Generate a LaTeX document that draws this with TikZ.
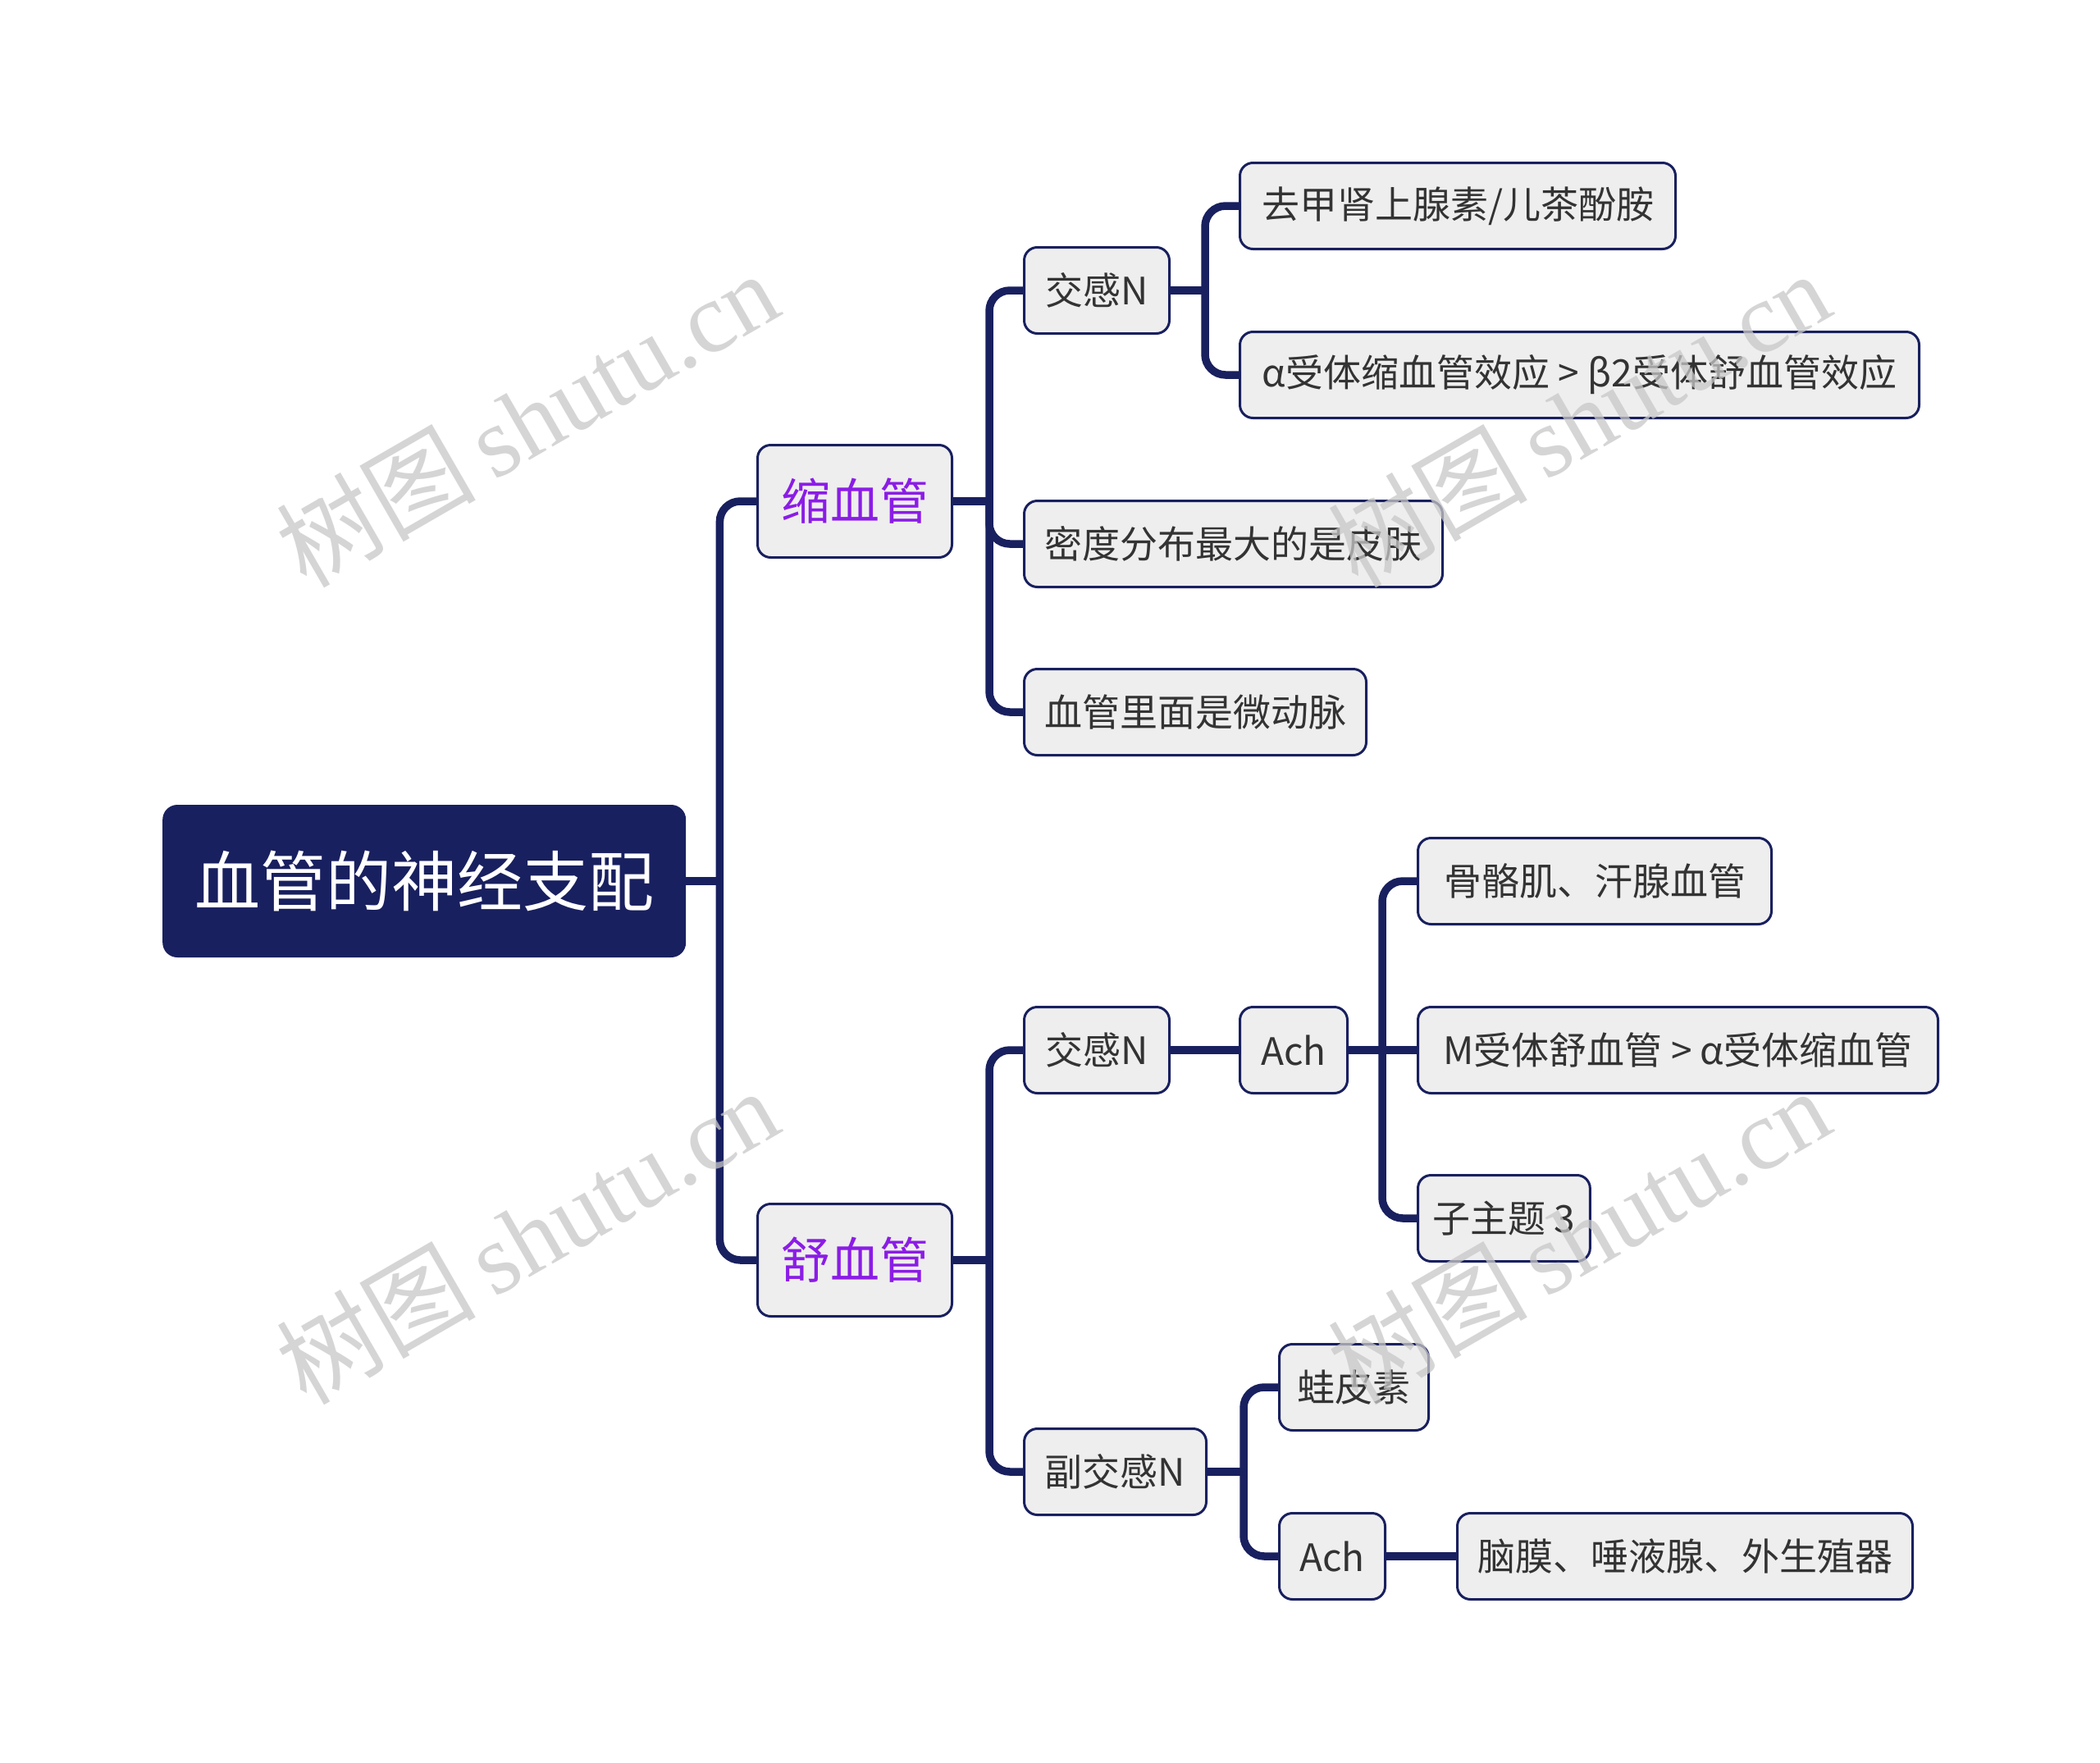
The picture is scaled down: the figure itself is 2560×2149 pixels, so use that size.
\documentclass[tikz,border=0pt]{standalone}
\usepackage{fontspec}
\newfontfamily\cjk{Noto Sans CJK SC}
\newfontfamily\wmserif{Liberation Serif}
\usetikzlibrary{calc}
\pgfdeclarelayer{bg}
\pgfdeclarelayer{fg}
\pgfsetlayers{bg,main,fg}
\definecolor{navy}{HTML}{19205F}
\definecolor{nodefill}{HTML}{EEEEEE}
\definecolor{txt}{HTML}{333333}
\definecolor{purp}{HTML}{8B1CE6}
\definecolor{wm}{HTML}{C8C8C8}
\begin{document}
\begin{tikzpicture}[x=1pt,y=-1pt,
  conn/.style={draw=navy,line width=9.5pt,rounded corners=25pt},
  box/.style={draw=navy,line width=3pt,fill=nodefill,rounded corners=16pt,anchor=west,
    minimum height=105pt,inner xsep=18pt,inner ysep=0pt,text=txt,
    font=\cjk\fontsize{46}{50}\selectfont},
  mainbox/.style={box,minimum height=137pt,text=purp,font=\cjk\fontsize{60}{64}\selectfont},
  rootbox/.style={fill=navy,rounded corners=18pt,anchor=west,minimum height=186pt,
    minimum width=638pt,text=white,font=\cjk\fontsize{80}{84}\selectfont},
  wmark/.style={text=wm,opacity=0.75,rotate=30,font=\fontsize{122}{122}\selectfont}
]
\useasboundingbox (0,0) rectangle (2560,2149);

\node[rootbox] (root) at (198,1074) {血管的神经支配};
\node[mainbox,minimum width=237pt] (suo) at (922,611) {缩血管};
\node[mainbox,minimum width=237pt] (shu) at (922,1536) {舒血管};
\node[box,minimum width=177pt] (jg1) at (1247,354) {交感N};
\node[box,minimum width=531pt] (qj) at (1510,251) {去甲肾上腺素/儿茶酚胺};
\node[box,minimum width=828pt] (alpha) at (1510,457) {α受体缩血管效应 > β2受体舒血管效应};
\node[box,minimum width=510pt] (md) at (1247,663) {密度分布最大的是皮肤};
\node[box,minimum width=417pt] (xg) at (1247,868) {血管里面是微动脉};
\node[box,minimum width=177pt] (jg2) at (1247,1280) {交感N};
\node[box,minimum width=131pt] (ach1) at (1510,1280) {Ach};
\node[box,minimum width=431pt] (gg) at (1727,1074) {骨骼肌、汗腺血管};
\node[box,minimum width=634pt] (mst) at (1727,1280) {M受体舒血管 > α受体缩血管};
\node[box,minimum width=182pt] (zzt) at (1727,1485) {子主题 3};
\node[box,minimum width=222pt] (fjg) at (1247,1794) {副交感N};
\node[box,minimum width=182pt] (wp) at (1558,1691) {蛙皮素};
\node[box,minimum width=129pt] (ach2) at (1558,1897) {Ach};
\node[box,minimum width=555pt] (nm) at (1775,1897) {脑膜、唾液腺、外生殖器};

\begin{pgfonlayer}{bg}
\fill[white] (0,0) rectangle (2560,2149);
\draw[conn] (root.east) -- ++(41,0) coordinate (t0);
\draw[conn] (t0) |- (suo.west);
\draw[conn] (t0) |- (shu.west);
\draw[conn] (suo.east) -- ++(44,0) coordinate (t1);
\draw[conn] (t1) |- (jg1.west);
\draw[conn] (t1) |- (md.west);
\draw[conn] (t1) |- (xg.west);
\draw[conn] (jg1.east) -- ++(42,0) coordinate (t2);
\draw[conn] (t2) |- (qj.west);
\draw[conn] (t2) |- (alpha.west);
\draw[conn] (shu.east) -- ++(44,0) coordinate (t3);
\draw[conn] (t3) |- (jg2.west);
\draw[conn] (t3) |- (fjg.west);
\draw[conn] (jg2.east) -- (ach1.west);
\draw[conn] (ach1.east) -- (mst.west);
\draw[conn] (ach1.east) -- ++(41,0) coordinate (t4);
\draw[conn] (t4) |- (gg.west);
\draw[conn] (t4) |- (zzt.west);
\draw[conn] (fjg.east) -- ++(44,0) coordinate (t5);
\draw[conn] (t5) |- (wp.west);
\draw[conn] (t5) |- (ach2.west);
\draw[conn] (ach2.east) -- (nm.west);
\end{pgfonlayer}

\begin{pgfonlayer}{fg}
\node[wmark] (wm1) at (642,510) {\cjk 树图\,\wmserif shutu.cn};
\node[wmark] (wm2) at (642,1506) {\cjk 树图\,\wmserif shutu.cn};
\node[wmark] (wm3) at (1924,510) {\cjk 树图\,\wmserif shutu.cn};
\node[wmark] (wm4) at (1924,1506) {\cjk 树图\,\wmserif shutu.cn};
\end{pgfonlayer}
\end{tikzpicture}
\end{document}
